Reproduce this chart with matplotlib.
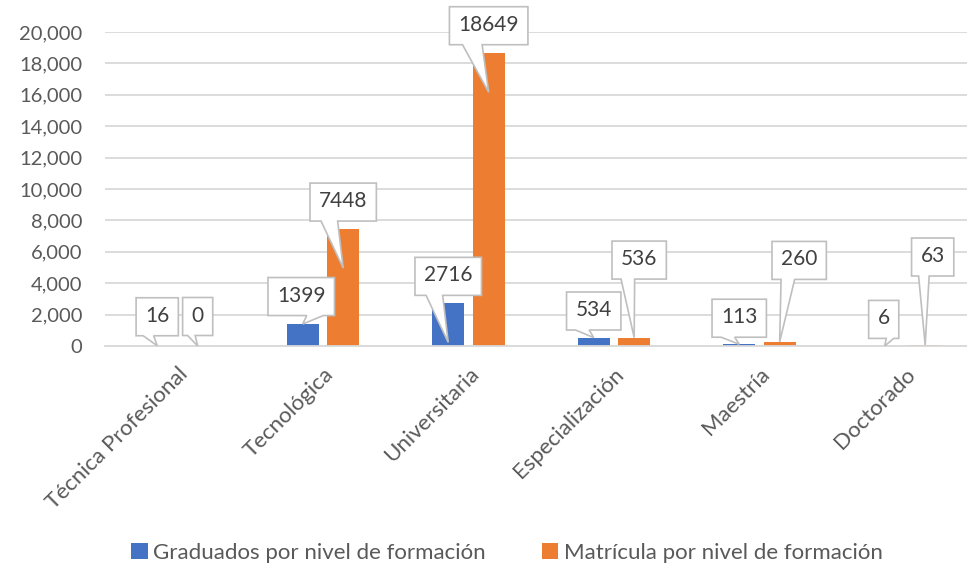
import matplotlib.pyplot as plt
from matplotlib.patches import Polygon
from matplotlib.ticker import FuncFormatter
import numpy as np

# --- Data ---
niveles = ['Técnica Profesional', 'Tecnológica', 'Universitaria',
           'Especialización', 'Maestría', 'Doctorado']
graduados = [16, 1399, 2716, 534, 113, 6]
matricula = [0, 7448, 18649, 536, 260, 63]
series_names = ['Graduados por nivel de formación', 'Matrícula por nivel de formación']

# callout layout, px: (tip depth below bar top, box dx, box center height above tip)
callouts_grad = [(0, 0, 29), (0, -1.5, 27.5), (39, 0, 66), (0, 0, 26.6), (0, 0, 26), (0, -1, 26.5)]
callouts_mat = [(0, 0, 29.5), (39, 0, 66), (39, 0, 66.5), (0, 5, 77.5), (0, 19.5, 81.5), (0, 7.5, 88)]

BLUE = '#4472C4'
ORANGE = '#ED7D31'
GRID = '#D9D9D9'
TEXT = '#595959'

plt.rcParams['font.family'] = ['Lato', 'DejaVu Sans']

W, H = 967, 568
fig = plt.figure(figsize=(W / 100, H / 100), dpi=100)
fig.patch.set_facecolor('white')
ax = fig.add_axes([104.7 / W, 222 / H, 873 / W, 314 / H])

x = np.arange(len(niveles))
bw = 0.22
off = 0.139
ax.bar(x - off, graduados, bw, color=BLUE, label=series_names[0], zorder=2)
ax.bar(x + off, matricula, bw, color=ORANGE, label=series_names[1], zorder=2)

ax.set_xlim(-0.5, len(niveles) - 0.5)
ax.set_ylim(0, 20000)
ax.set_yticks(np.arange(0, 20001, 2000))
ax.yaxis.set_major_formatter(FuncFormatter(lambda v, p: f'{v:,.0f}'))
ax.grid(axis='y', color=GRID, linewidth=1.3, zorder=0)
ax.set_axisbelow(True)
for s in ['top', 'right', 'left']:
    ax.spines[s].set_visible(False)
ax.spines['bottom'].set_color(GRID)
ax.spines['bottom'].set_linewidth(1.3)
ax.tick_params(axis='both', length=0, colors=TEXT, labelsize=14.5)
ax.tick_params(axis='y', pad=16)

ax.set_xticks(x)
ax.set_xticklabels(niveles, rotation=45, ha='right', va='top', rotation_mode='anchor', fontsize=16)
ax.tick_params(axis='x', pad=13)

# --- callouts ---
renderer = fig.canvas.get_renderer()
to_fig = fig.transFigure.inverted()


def callout(xc, val, spec):
    depth, dx, dy = spec
    tx, ty = ax.transData.transform((xc, val))
    ty -= depth
    cx, cy = tx + dx, ty + dy
    t = fig.text(0, 0, str(val), fontsize=15, color='#404040', ha='center', va='center', zorder=7)
    tw = t.get_window_extent(renderer).width
    w, h = tw + 18, 38
    x0, x1 = cx - w / 2, cx + w / 2
    y0, y1 = cy - h / 2, cy + h / 2
    if tx > cx + 0.5:
        b1, b2 = x0 + w * 7 / 12, x0 + w * 10 / 12
    else:
        b1, b2 = x0 + w * 2 / 12, x0 + w * 5 / 12
    pts = [(x0, y1), (x1, y1), (x1, y0), (b2, y0), (tx, ty), (b1, y0), (x0, y0)]
    pts = to_fig.transform(pts)
    fig.add_artist(Polygon(pts, closed=True, transform=fig.transFigure, facecolor='white',
                           edgecolor='#BFBFBF', linewidth=1.2, zorder=6, joinstyle='miter'))
    t.set_position(to_fig.transform((cx, cy + 1)))


for i in range(len(niveles)):
    callout(x[i] - off, graduados[i], callouts_grad[i])
    callout(x[i] + off, matricula[i], callouts_mat[i])

fig.legend(loc='center', bbox_to_anchor=(507 / W, 1 - 553 / H), ncol=2, frameon=False,
           fontsize=16, labelcolor=TEXT, handlelength=0.75, handleheight=0.75,
           handletextpad=0.25, columnspacing=2.5)

fig.savefig('out.png', dpi=100, facecolor='white')
